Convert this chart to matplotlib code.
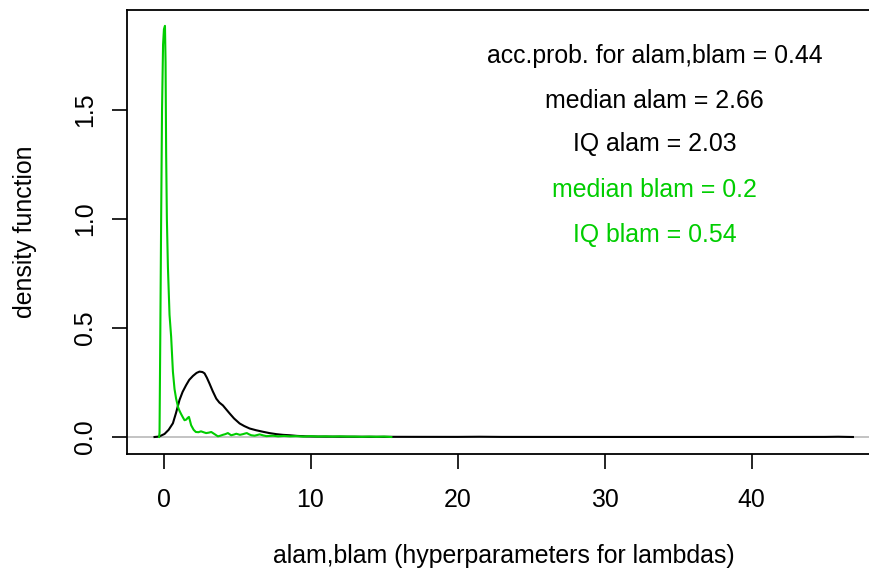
import matplotlib
matplotlib.use("Agg")
import matplotlib.pyplot as plt

# Posterior density estimate of alam (black)
alam_x = [-0.61, -0.3, 0.07, 0.35, 0.64, 0.85, 1.09, 1.3, 1.54, 1.75, 2.0, 2.25, 2.45,
          2.65, 2.79, 2.95, 3.13, 3.35, 3.59, 3.8, 4.04, 4.25, 4.5, 4.8, 5.18, 5.5,
          5.86, 6.3, 6.77, 7.2, 7.68, 8.1, 8.58, 9.1, 9.7, 10.5, 12.0, 14.0, 17.0,
          20.0, 21.5, 23.0, 27.0, 32.0, 37.0, 42.0, 45.0, 45.9, 46.5, 46.9]
alam_y = [0.0, 0.002, 0.014, 0.033, 0.063, 0.11, 0.17, 0.207, 0.238, 0.262, 0.28, 0.294,
          0.30, 0.298, 0.292, 0.272, 0.245, 0.21, 0.176, 0.158, 0.145, 0.128, 0.108,
          0.085, 0.062, 0.05, 0.039, 0.031, 0.024, 0.018, 0.013, 0.01, 0.008, 0.005,
          0.003, 0.002, 0.0015, 0.001, 0.0007, 0.0005, 0.0012, 0.0004, 0.0003, 0.0002,
          0.0002, 0.0002, 0.0004, 0.0012, 0.0004, 0.0]

# Posterior density estimate of blam (green)
blam_x = [-0.3, -0.27, -0.22, -0.16, -0.1, -0.03, 0.03, 0.1, 0.14, 0.18, 0.23, 0.3,
          0.41, 0.52, 0.64, 0.75, 0.86, 1.0, 1.09, 1.2, 1.32, 1.43, 1.55, 1.65, 1.73,
          1.8, 1.88, 2.05, 2.2, 2.38, 2.55, 2.72, 2.9, 3.08, 3.25, 3.5, 3.7, 3.87,
          4.04, 4.2, 4.38, 4.6, 4.78, 4.95, 5.2, 5.4, 5.55, 5.67, 5.8, 5.97, 6.2,
          6.54, 6.8, 7.0, 7.45, 7.8, 8.2, 8.6, 9.0, 9.5, 10.0, 10.5, 11.0, 11.5,
          12.0, 12.5, 13.0, 13.5, 14.0, 14.5, 15.0, 15.5]
blam_y = [0.0, 0.02, 0.45, 1.0, 1.5, 1.8, 1.87, 1.886, 1.72, 1.30, 1.0, 0.78,
          0.56, 0.46, 0.3, 0.22, 0.175, 0.135, 0.12, 0.105, 0.09, 0.077, 0.08, 0.088,
          0.092, 0.075, 0.054, 0.033, 0.023, 0.022, 0.026, 0.022, 0.018, 0.02, 0.023,
          0.012, 0.003, 0.006, 0.01, 0.013, 0.018, 0.008, 0.011, 0.015, 0.01, 0.013,
          0.016, 0.018, 0.013, 0.008, 0.006, 0.012, 0.007, 0.004, 0.006, 0.003, 0.005,
          0.003, 0.004, 0.002, 0.004, 0.002, 0.003, 0.002, 0.003, 0.002, 0.002, 0.001,
          0.002, 0.001, 0.002, 0.0]

x_ticks = [0, 10, 20, 30, 40]
y_ticks = [0.0, 0.5, 1.0, 1.5]
y_tick_labels = ["0.0", "0.5", "1.0", "1.5"]

stats_lines = ["acc.prob. for alam,blam = 0.44",
               "median alam = 2.66",
               "IQ alam = 2.03",
               "median blam = 0.2",
               "IQ blam = 0.54"]
stats_y = [1.714, 1.508, 1.31, 1.102, 0.896]
stats_x = 33.4

BLACK = "black"
GREEN = "#00CD00"
GREY = "#BEBEBE"

plt.rcParams["font.family"] = ["Liberation Sans", "DejaVu Sans"]
FS = 17.9

fig = plt.figure(figsize=(8.69, 5.72), dpi=100)
ax = fig.add_axes([127 / 869, 118 / 572, (880 - 127) / 869, (454 - 10) / 572])

ax.axhline(0, color=GREY, lw=1.3, zorder=1)
ax.plot(alam_x, alam_y, color=BLACK, lw=1.5, zorder=2, solid_joinstyle="round")
ax.plot(blam_x, blam_y, color=GREEN, lw=1.5, zorder=3, solid_joinstyle="round")

stat_colors = [BLACK, BLACK, BLACK, GREEN, GREEN]
for txt, yy, cc in zip(stats_lines, stats_y, stat_colors):
    ax.text(stats_x, yy, txt, color=cc, fontsize=FS, ha="center", va="baseline")

xmin = (127 - 163.5) / 14.7
xmax = (880 - 163.5) / 14.7
ymin = -(454 - 437) / 218.0
ymax = (437 - 10) / 218.0
ax.set_xlim(xmin, xmax)
ax.set_ylim(ymin, ymax)

ax.set_xticks(x_ticks)
ax.set_xticklabels([str(t) for t in x_ticks])
ax.set_yticks(y_ticks)
ax.set_yticklabels(y_tick_labels, rotation=90, va="center")

ax.tick_params(axis="both", direction="out", length=10.8, width=1.2,
               labelsize=FS, color="black")
ax.tick_params(axis="x", pad=13.5)
ax.tick_params(axis="y", pad=11)

for sp in ax.spines.values():
    sp.set_linewidth(1.3)
    sp.set_color("black")

ax.set_xlabel("alam,blam (hyperparameters for lambdas)", fontsize=FS, labelpad=23)
ax.set_ylabel("density function", fontsize=FS, labelpad=26)

fig.savefig("out.png", dpi=100)
